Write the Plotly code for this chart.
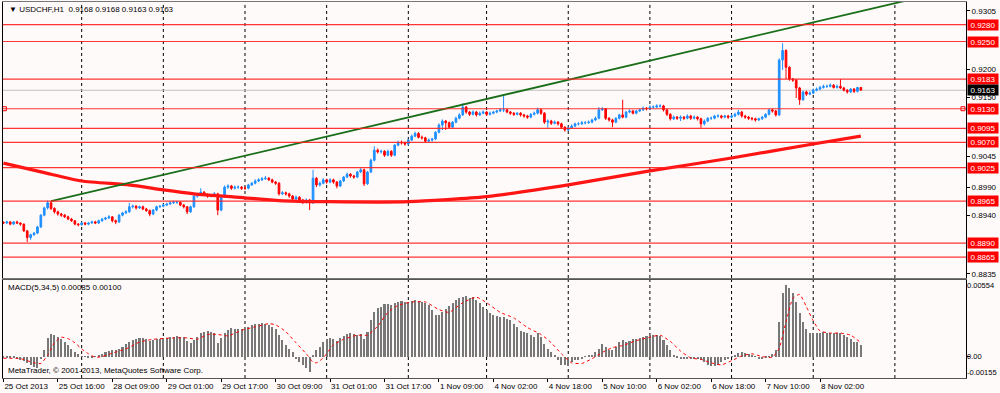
import plotly.graph_objects as go

# ---------------- data (prices in 1/10000, MACD in 1/1000) ----------------
first_open = 8927
close_pips = [
 8926,8928,8924,8928,8926,8924,8912,8900,8905,8908,
 8919,8940,8953,8962,8952,8946,8942,8940,8937,8933,
 8930,8924,8923,8926,8924,8926,8928,8926,8930,8933,
 8935,8937,8930,8928,8940,8944,8946,8955,8956,8953,
 8955,8951,8948,8942,8949,8955,8956,8958,8960,8962,
 8963,8963,8958,8955,8946,8955,8974,8978,8981,8976,
 8974,8976,8978,8949,8974,8990,8992,8988,8990,8990,
 8988,8988,8994,8997,9001,9003,9005,9006,9003,8999,
 8997,8978,8980,8978,8974,8969,8972,8967,8963,8967,
 8962,9006,8994,8997,9003,8999,9003,8999,8992,9001,
 9008,9013,9010,9008,9017,9021,8996,9017,9038,9056,
 9053,9054,9047,9054,9047,9065,9070,9069,9067,9074,
 9081,9086,9079,9078,9072,9074,9076,9088,9101,9108,
 9105,9097,9106,9113,9119,9133,9124,9120,9124,9119,
 9122,9124,9120,9122,9124,9126,9128,9128,9124,9122,
 9120,9122,9119,9117,9115,9120,9122,9128,9122,9106,
 9108,9104,9106,9103,9097,9092,9096,9099,9103,9103,
 9105,9105,9106,9110,9113,9128,9130,9113,9110,9106,
 9113,9119,9115,9124,9126,9122,9126,9128,9131,9130,
 9133,9133,9135,9135,9128,9120,9112,9115,9113,9115,
 9113,9117,9113,9115,9112,9103,9108,9113,9113,9117,
 9117,9115,9117,9115,9117,9120,9124,9117,9115,9113,
 9112,9110,9112,9115,9120,9128,9126,9119,9217,9234,
 9204,9183,9181,9167,9146,9160,9156,9158,9163,9165,
 9168,9170,9170,9172,9168,9170,9167,9163,9160,9165,
 9161,9168,9163]
high_pips = [
 8929,8930,8929,8929,8930,8927,8925,8913,8907,8910,
 8921,8942,8955,8966,8965,8954,8948,8944,8942,8939,
 8935,8931,8926,8928,8928,8928,8930,8930,8932,8935,
 8937,8940,8938,8932,8942,8946,8949,8962,8959,8958,
 8957,8957,8953,8950,8951,8957,8958,8960,8962,8964,
 8966,8965,8964,8960,8956,8957,8976,8980,8988,8983,
 8979,8978,8981,8980,8976,8993,8995,8994,8993,8993,
 8992,8991,8996,8999,9004,9006,9008,9010,9008,9005,
 9001,8999,8983,8982,8980,8976,8975,8974,8969,8970,
 8969,9021,9008,9000,9006,9005,9006,9005,9001,9003,
 9010,9016,9015,9012,9019,9024,9023,9019,9041,9063,
 9059,9057,9056,9057,9056,9067,9073,9073,9071,9076,
 9084,9089,9088,9082,9080,9077,9078,9090,9104,9111,
 9110,9107,9108,9116,9122,9140,9135,9126,9127,9126,
 9125,9127,9126,9125,9126,9128,9131,9154,9130,9126,
 9124,9124,9124,9121,9119,9122,9125,9132,9130,9124,
 9111,9110,9109,9108,9105,9099,9098,9102,9105,9106,
 9108,9108,9109,9112,9116,9133,9133,9131,9115,9112,
 9115,9121,9146,9126,9129,9128,9128,9130,9134,9133,
 9136,9136,9138,9138,9137,9130,9122,9118,9117,9118,
 9117,9120,9119,9118,9117,9114,9111,9115,9116,9119,
 9120,9119,9119,9119,9120,9123,9128,9126,9119,9117,
 9115,9114,9114,9117,9122,9130,9130,9128,9220,9247,
 9236,9206,9185,9183,9169,9162,9162,9161,9166,9168,
 9171,9173,9173,9175,9174,9173,9183,9169,9165,9167,
 9167,9169,9168]
low_pips = [
 8924,8924,8922,8923,8924,8921,8910,8892,8896,8903,
 8906,8917,8938,8950,8949,8943,8939,8937,8935,8931,
 8928,8922,8920,8921,8922,8922,8925,8924,8924,8928,
 8931,8933,8927,8924,8926,8938,8942,8944,8952,8950,
 8951,8949,8946,8938,8940,8947,8953,8954,8956,8958,
 8960,8960,8956,8952,8942,8944,8953,8971,8976,8974,
 8971,8972,8974,8940,8947,8972,8987,8985,8986,8987,
 8985,8985,8986,8992,8995,8999,9001,9003,9001,8997,
 8994,8975,8976,8975,8971,8966,8967,8964,8960,8961,
 8949,8960,8990,8991,8995,8996,8997,8996,8988,8990,
 8999,9006,9007,9005,9006,9015,8992,8994,9015,9036,
 9050,9050,9044,9045,9044,9045,9063,9066,9064,9065,
 9072,9079,9077,9075,9070,9070,9071,9074,9086,9092,
 9092,9095,9095,9104,9111,9117,9121,9117,9118,9116,
 9117,9120,9117,9118,9120,9122,9124,9124,9122,9119,
 9117,9118,9116,9114,9112,9113,9118,9120,9119,9103,
 9096,9101,9102,9100,9094,9089,9090,9094,9097,9100,
 9101,9102,9103,9104,9108,9111,9126,9110,9107,9097,
 9104,9111,9113,9113,9122,9120,9120,9124,9126,9127,
 9128,9130,9131,9132,9125,9117,9109,9110,9110,9108,
 9110,9111,9110,9111,9109,9096,9100,9106,9110,9111,
 9114,9112,9113,9112,9113,9115,9118,9114,9112,9110,
 9109,9107,9108,9110,9113,9118,9123,9116,9117,9199,
 9183,9180,9178,9149,9137,9144,9153,9154,9156,9161,
 9163,9166,9167,9168,9166,9166,9165,9161,9157,9158,
 9158,9159,9163]
macd_milli = [
 -0.07,-0.07,-0.1,-0.1,-0.17,-0.27,-0.32,-0.46,-0.63,-0.75,
 -0.8,-0.2,0.51,1.31,1.6,1.55,1.38,1.24,1.07,0.82,
 0.58,0.33,0.16,0.02,-0.03,-0.07,-0.07,-0.03,0.07,0.22,
 0.33,0.41,0.46,0.5,0.53,0.7,0.89,1.04,1.18,1.28,
 1.33,1.33,1.24,1.14,1.18,1.24,1.28,1.31,1.33,1.38,
 1.43,1.48,1.43,1.38,1.14,1.0,1.18,1.43,1.67,1.79,
 1.84,1.79,1.67,0.95,1.31,1.67,1.91,2.08,2.03,2.03,
 1.98,2.01,2.15,2.27,2.35,2.39,2.44,2.39,2.27,2.15,
 1.96,1.55,1.18,0.82,0.58,0.33,-0.17,-0.41,-0.63,-0.8,
 -1.12,0.07,0.46,0.7,1.07,1.24,1.31,1.24,1.14,1.31,
 1.48,1.62,1.67,1.6,1.55,1.62,1.24,1.79,2.63,3.24,
 3.48,3.6,3.8,3.8,3.72,3.84,3.96,4.0,3.96,3.96,
 4.0,4.09,4.0,3.96,3.87,3.72,3.36,2.99,2.99,3.24,
 3.41,3.65,3.84,4.09,4.21,4.33,4.38,4.21,4.28,4.09,
 3.9,3.6,3.36,3.12,2.99,2.93,2.88,2.83,2.75,2.63,
 2.39,2.15,1.86,1.79,1.67,1.55,1.43,1.67,1.38,0.94,
 0.58,0.33,0.1,-0.27,-0.63,-0.63,-0.7,-0.39,-0.27,-0.22,
 -0.15,-0.03,0.1,0.1,0.33,0.58,0.94,0.7,0.51,0.51,
 0.7,1.06,1.18,1.06,1.14,1.24,1.24,1.31,1.38,1.5,
 1.55,1.55,1.55,1.5,1.18,0.82,0.46,0.1,-0.07,-0.2,
 -0.18,-0.15,-0.15,-0.18,-0.2,-0.27,-0.39,-0.63,-0.7,-0.7,
 -0.63,-0.39,-0.27,-0.15,0.02,0.1,0.26,0.33,0.26,0.17,
 0.07,0.02,-0.15,-0.15,-0.07,-0.03,0.17,0.46,2.51,4.57,
 5.17,4.93,4.57,3.96,3.12,2.51,1.96,1.67,1.67,1.67,
 1.72,1.79,1.72,1.72,1.72,1.67,1.67,1.55,1.38,1.24,
 1.06,1.06,0.85]
signal_idx = [0,5,9,11,13,15,17,19,21,23,25,27,29,32,36,40,44,50,54,57,60,63,66,70,74,78,80,83,86,89,91,92,94,97,100,104,107,110,113,116,120,124,128,131,135,139,142,146,150,154,158,161,164,167,170,173,176,179,182,186,190,193,196,199,202,205,208,211,214,217,220,223,226,228,230,232,234,236,238,240,243,246,249,252]
signal_milli = [-0.12,-0.15,-0.45,-0.5,0.1,1.0,1.4,1.3,1.0,0.55,0.2,-0.05,0.0,0.25,0.55,1.05,1.25,1.35,1.35,1.25,1.6,1.6,1.5,1.9,2.15,2.38,2.3,1.8,1.0,0.2,-0.4,-0.45,-0.1,0.85,1.25,1.55,1.55,2.2,3.2,3.7,3.95,3.95,3.4,3.2,3.9,4.3,3.9,3.2,2.8,2.1,1.6,1.0,0.2,-0.45,-0.5,-0.15,0.3,0.65,0.8,1.15,1.4,1.55,1.1,0.4,-0.1,-0.2,-0.45,-0.6,-0.3,0.05,0.2,0.0,-0.05,0.6,2.5,4.2,4.5,3.6,2.6,1.85,1.7,1.7,1.55,1.0]
ma_idx = [0,12,23,37,47,56,71,81,96,119,142,166,190,214,238,252]
ma_price = [0.9033,0.9016,0.9001,0.8994,0.8985,0.8978,0.8971,0.8966,0.8964,0.8964,0.8973,0.8994,0.9019,0.9042,0.9067,0.9081]
trend_idx = [14, 266]
trend_price = [0.8965, 0.9324]
red_levels = [0.9280, 0.9250, 0.9183, 0.9130, 0.9095, 0.9070, 0.9025, 0.8965, 0.8890, 0.8865]
bid_level = 0.9163
price_ticks = [0.9305, 0.9200, 0.9150, 0.9045, 0.8990, 0.8940, 0.8835]
x_label_idx = [0,16,32,48,64,80,96,112,128,144,160,176,192,208,224,240]
x_labels = ["25 Oct 2013","25 Oct 16:00","28 Oct 09:00","29 Oct 01:00","29 Oct 17:00",
            "30 Oct 09:00","31 Oct 01:00","31 Oct 17:00","1 Nov 09:00","4 Nov 02:00",
            "4 Nov 18:00","5 Nov 10:00","6 Nov 02:00","6 Nov 18:00","7 Nov 10:00","8 Nov 02:00"]
day_start_idx = [23,47,71,95,119,142,166,190,214,238,262]
macd_range = [-0.00155, 0.00554]

# ---------------- derived ----------------
n = len(close_pips)
idx = list(range(n))
closes = [c / 10000 for c in close_pips]
highs = [h / 10000 for h in high_pips]
lows = [l / 10000 for l in low_pips]
opens = [first_open / 10000] + closes[:-1]
macd = [m / 1000 for m in macd_milli]
signal = [s / 1000 for s in signal_milli]

FONT = "Liberation Sans, Arial, sans-serif"
BG = "#FFFAFA"
XR = [-0.12, 282.9]
YR = [0.882785, 0.932053]

fig = go.Figure()

fig.add_trace(go.Candlestick(
    x=idx, open=opens, high=highs, low=lows, close=closes,
    xaxis="x", yaxis="y", whiskerwidth=0,
    increasing=dict(line=dict(color="#1E90FF", width=1), fillcolor="#1E90FF"),
    decreasing=dict(line=dict(color="#FF0000", width=1), fillcolor="#FF0000"),
    hoverinfo="skip", showlegend=False))

fig.add_trace(go.Scatter(x=ma_idx, y=ma_price, mode="lines", xaxis="x", yaxis="y",
                         line=dict(color="rgb(255,20,20)", width=3.2, shape="spline", smoothing=0.6),
                         hoverinfo="skip", showlegend=False))
fig.add_trace(go.Scatter(x=trend_idx, y=trend_price, mode="lines", xaxis="x", yaxis="y",
                         line=dict(color="rgb(25,110,25)", width=1.8),
                         hoverinfo="skip", showlegend=False))

# selected line handles
fig.add_trace(go.Scatter(x=[XR[0] + 0.4, XR[1] - 0.9], y=[0.9130, 0.9130], mode="markers",
                         xaxis="x", yaxis="y", cliponaxis=False,
                         marker=dict(symbol="square", size=4, color=BG, line=dict(color="red", width=1)),
                         hoverinfo="skip", showlegend=False))

fig.add_trace(go.Bar(x=idx, y=macd, xaxis="x2", yaxis="y2", width=0.6,
                     marker=dict(color="#787878", line=dict(width=0)),
                     hoverinfo="skip", showlegend=False))
fig.add_trace(go.Scatter(x=signal_idx, y=signal, mode="lines", xaxis="x2", yaxis="y2",
                         line=dict(color="red", width=1, dash="dot", shape="spline", smoothing=0.5),
                         hoverinfo="skip", showlegend=False))

shapes = []
for d in day_start_idx:
    for yr in ("y domain", "y2 domain"):
        shapes.append(dict(type="line", xref="x", yref=yr, x0=d, x1=d, y0=0, y1=1,
                           line=dict(color="black", width=1, dash="3px,3px"), layer="below"))
for lv in red_levels:
    shapes.append(dict(type="line", xref="x domain", yref="y", x0=0, x1=1, y0=lv, y1=lv,
                       line=dict(color="rgba(255,30,30,0.9)", width=1.2)))
shapes.append(dict(type="line", xref="x domain", yref="y", x0=0, x1=1, y0=bid_level, y1=bid_level,
                   line=dict(color="#C0C0C0", width=1), layer="below"))

ann = []
ann.append(dict(x=0.004, y=1, xref="paper", yref="paper", xanchor="left", yanchor="top", yshift=-1,
                text="▼ USDCHF,H1  0.9168 0.9168 0.9163 0.9163", showarrow=False,
                font=dict(family=FONT, size=8, color="black")))
ann.append(dict(x=0.003, y=0.2606, xref="paper", yref="paper", xanchor="left", yanchor="top", yshift=-1,
                text="MACD(5,34,5) 0.00085 0.00100", showarrow=False,
                font=dict(family=FONT, size=8, color="black")))
ann.append(dict(x=0.003, y=0, xref="paper", yref="paper", xanchor="left", yanchor="bottom", yshift=1,
                text="MetaTrader, © 2001-2013, MetaQuotes Software Corp.", showarrow=False,
                font=dict(family=FONT, size=8, color="black")))
for lv in red_levels:
    ann.append(dict(x=1, y=lv, xref="paper", yref="y", xanchor="left", yanchor="middle", xshift=1,
                    text=f"{lv:.4f}", showarrow=False, bgcolor="#FF0000", width=30, height=10,
                    borderpad=0, font=dict(family=FONT, size=8, color="white")))
ann.append(dict(x=1, y=bid_level, xref="paper", yref="y", xanchor="left", yanchor="middle", xshift=1,
                text=f"{bid_level:.4f}", showarrow=False, bgcolor="black", width=30, height=10,
                borderpad=0, font=dict(family=FONT, size=8, color="white")))
for v, ya in ((macd_range[1], "top"), (0.0, "middle"), (macd_range[0], "bottom")):
    txt = "0.00" if v == 0 else f"{v:.5f}"
    ann.append(dict(x=1, y=v, xref="paper", yref="y2", xanchor="left", yanchor=ya, xshift=0,
                    borderpad=0, text=txt, showarrow=False,
                    font=dict(family=FONT, size=7.5, color="black")))

fig.update_layout(
    width=1000, height=393,
    margin=dict(l=3, r=34, t=2, b=15, autoexpand=False),
    paper_bgcolor=BG, plot_bgcolor=BG,
    font=dict(family=FONT, size=8, color="black"),
    showlegend=False, bargap=0,
    shapes=shapes, annotations=ann,
    xaxis=dict(domain=[0, 1], anchor="y", range=XR, showticklabels=False, ticks="",
               showgrid=False, zeroline=False, showline=True, linecolor="#777", mirror=True,
               rangeslider=dict(visible=False), fixedrange=True, automargin=False),
    yaxis=dict(domain=[0.266, 1], anchor="x", range=YR, side="right", automargin=False,
               tickvals=price_ticks, tickformat=".4f", ticks="outside", ticklen=3,
               tickcolor="black", showgrid=False, zeroline=False, showline=True,
               linecolor="black", mirror=True, tickfont=dict(family=FONT, size=8, color="black")),
    xaxis2=dict(domain=[0, 1], anchor="y2", range=XR, matches="x", automargin=False,
                tickvals=x_label_idx, ticktext=x_labels, ticklabelposition="outside right",
                tickangle=0, ticks="outside", ticklen=3, tickcolor="black", showgrid=False,
                zeroline=False, showline=True, linecolor="#555", mirror=True,
                tickfont=dict(family=FONT, size=8, color="black")),
    yaxis2=dict(domain=[0, 0.2606], anchor="x2", range=macd_range, side="right", automargin=False,
                tickvals=[0.0], showticklabels=False, ticks="outside", ticklen=3, tickcolor="black",
                showgrid=False, zeroline=False, showline=True, linecolor="black", mirror=True),
)

fig.write_html("out.html", config={"displayModeBar": False},
               post_script="document.body.style.margin='0';document.body.style.overflow='hidden';")
